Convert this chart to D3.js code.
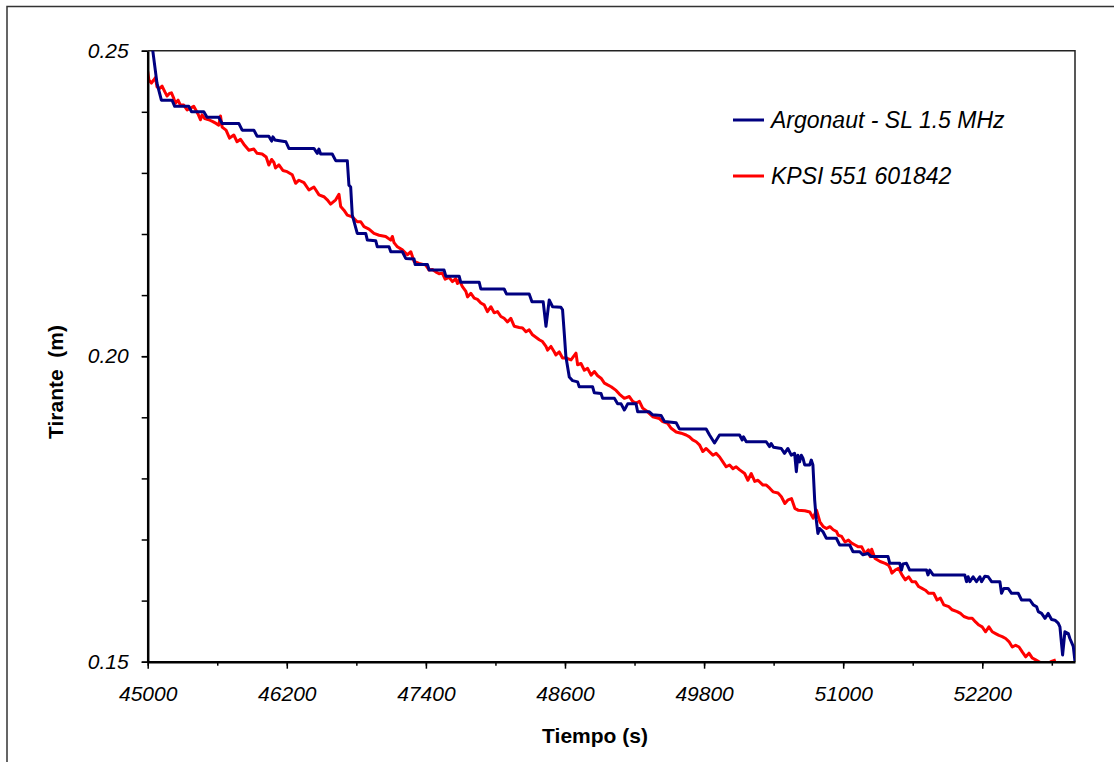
<!DOCTYPE html>
<meta charset="utf-8">
<head>
  <title>Tirante vs Tiempo</title>
  <script type="text/javascript" src="https://d3js.org/d3.v7.min.js"></script>
  <style>
    body {margin: 0; background: #fff;}
    text {font-family: "Liberation Sans", Arial, sans-serif;}
    .tick text {font-size: 21px; font-style: italic; fill: #000;}
  </style>
</head>
<body>
<div id="chart"></div>
<script>

// data: [tiempo (s), tirante (m)]
var argonaut = [[45020,0.2535],[45080,0.2447],[45118,0.2419],[45210,0.2419],[45233,0.2409],[45354,0.2409],[45378,0.2400],[45484,0.2400],[45512,0.2391],[45613,0.2391],[45642,0.2381],[45786,0.2381],[45815,0.2370],[45916,0.2370],[45944,0.2360],[46045,0.2360],[46069,0.2352],[46080,0.2359],[46097,0.2354],[46192,0.2351],[46218,0.2340],[46434,0.2340],[46463,0.2332],[46477,0.2339],[46492,0.2331],[46592,0.2331],[46622,0.2320],[46722,0.2320],[46736,0.2280],[46751,0.2277],[46765,0.2231],[46808,0.2201],[46881,0.2201],[46895,0.2190],[46967,0.2189],[46981,0.2179],[47082,0.2179],[47097,0.2171],[47197,0.2171],[47226,0.2160],[47298,0.2159],[47307,0.2150],[47413,0.2150],[47428,0.2141],[47557,0.2141],[47572,0.2131],[47687,0.2131],[47701,0.2121],[47860,0.2121],[47874,0.2110],[48075,0.2110],[48095,0.2102],[48291,0.2102],[48315,0.2089],[48412,0.2089],[48436,0.2049],[48464,0.2092],[48493,0.2081],[48565,0.2080],[48579,0.2076],[48594,0.2037],[48608,0.1999],[48637,0.1966],[48666,0.1960],[48709,0.1958],[48723,0.1950],[48838,0.1950],[48853,0.1940],[48911,0.1939],[48925,0.1931],[49026,0.1931],[49054,0.1922],[49084,0.1922],[49112,0.1912],[49127,0.1917],[49141,0.1922],[49213,0.1922],[49227,0.1909],[49328,0.1909],[49357,0.1904],[49429,0.1903],[49458,0.1893],[49559,0.1891],[49587,0.1881],[49818,0.1881],[49847,0.1871],[49890,0.1858],[49933,0.1871],[50106,0.1871],[50129,0.1863],[50140,0.1868],[50164,0.1860],[50336,0.1860],[50365,0.1852],[50379,0.1857],[50399,0.1851],[50466,0.1849],[50494,0.1841],[50523,0.1849],[50552,0.1838],[50581,0.1841],[50596,0.1811],[50609,0.1838],[50624,0.1827],[50639,0.1838],[50653,0.1833],[50668,0.1822],[50711,0.1822],[50725,0.1830],[50739,0.1822],[50754,0.1765],[50768,0.1732],[50782,0.1710],[50797,0.1718],[50825,0.1713],[50855,0.1702],[50941,0.1702],[50970,0.1691],[51056,0.1691],[51085,0.1680],[51142,0.1680],[51171,0.1675],[51214,0.1677],[51244,0.1672],[51387,0.1672],[51402,0.1661],[51488,0.1661],[51503,0.1650],[51516,0.1660],[51546,0.1661],[51574,0.1650],[51719,0.1650],[51732,0.1642],[51747,0.1650],[51776,0.1642],[52049,0.1642],[52064,0.1631],[52078,0.1639],[52093,0.1631],[52121,0.1639],[52150,0.1631],[52179,0.1639],[52194,0.1631],[52222,0.1640],[52251,0.1639],[52280,0.1631],[52352,0.1631],[52366,0.1612],[52386,0.1620],[52423,0.1620],[52453,0.1612],[52510,0.1612],[52539,0.1601],[52611,0.1601],[52640,0.1593],[52669,0.1590],[52683,0.1582],[52712,0.1579],[52741,0.1571],[52769,0.1579],[52798,0.1569],[52827,0.1568],[52855,0.1563],[52870,0.1557],[52893,0.1511],[52913,0.1549],[52942,0.1546],[52956,0.1538],[52985,0.1525],[53000,0.1500]];

var kpsi = [[45000,0.2466],[45010,0.2452],[45032,0.2447],[45052,0.2452],[45067,0.2456],[45080,0.2441],[45101,0.2438],[45124,0.2442],[45147,0.2433],[45167,0.2426],[45187,0.2430],[45205,0.2431],[45225,0.2422],[45239,0.2414],[45262,0.2419],[45282,0.2411],[45311,0.2411],[45340,0.2403],[45369,0.2406],[45397,0.2409],[45435,0.2396],[45455,0.2387],[45469,0.2395],[45492,0.2389],[45527,0.2387],[45562,0.2384],[45590,0.2381],[45613,0.2378],[45628,0.2393],[45642,0.2375],[45676,0.2370],[45706,0.2357],[45743,0.2362],[45771,0.2351],[45801,0.2355],[45829,0.2347],[45873,0.2337],[45916,0.2339],[45944,0.2332],[45987,0.2331],[46022,0.2326],[46045,0.2313],[46069,0.2322],[46089,0.2317],[46103,0.2308],[46132,0.2313],[46166,0.2304],[46203,0.2302],[46247,0.2297],[46276,0.2283],[46305,0.2288],[46348,0.2284],[46391,0.2272],[46434,0.2277],[46478,0.2264],[46520,0.2261],[46549,0.2256],[46578,0.2249],[46622,0.2256],[46650,0.2265],[46665,0.2245],[46693,0.2239],[46722,0.2231],[46765,0.2228],[46808,0.2220],[46838,0.2220],[46866,0.2212],[46909,0.2208],[46952,0.2201],[46996,0.2198],[47053,0.2196],[47097,0.2190],[47111,0.2196],[47125,0.2186],[47154,0.2179],[47197,0.2174],[47240,0.2166],[47270,0.2171],[47298,0.2155],[47341,0.2152],[47399,0.2149],[47428,0.2141],[47456,0.2142],[47485,0.2138],[47514,0.2135],[47542,0.2136],[47566,0.2126],[47600,0.2129],[47629,0.2122],[47658,0.2127],[47672,0.2119],[47687,0.2125],[47715,0.2114],[47745,0.2106],[47759,0.2097],[47788,0.2103],[47817,0.2095],[47845,0.2093],[47874,0.2087],[47903,0.2084],[47931,0.2073],[47961,0.2081],[47989,0.2071],[48018,0.2073],[48047,0.2065],[48075,0.2062],[48104,0.2056],[48133,0.2062],[48162,0.2049],[48205,0.2047],[48234,0.2046],[48263,0.2040],[48291,0.2043],[48320,0.2035],[48349,0.2031],[48378,0.2027],[48406,0.2024],[48436,0.2016],[48450,0.2010],[48479,0.2016],[48508,0.2007],[48522,0.2002],[48551,0.2007],[48579,0.1997],[48608,0.1997],[48652,0.1994],[48695,0.2005],[48709,0.1986],[48738,0.1988],[48767,0.1977],[48795,0.1980],[48825,0.1969],[48853,0.1975],[48882,0.1968],[48911,0.1964],[48940,0.1956],[48968,0.1953],[48998,0.1950],[49041,0.1944],[49069,0.1938],[49112,0.1931],[49155,0.1934],[49184,0.1926],[49213,0.1923],[49242,0.1926],[49270,0.1915],[49313,0.1909],[49357,0.1901],[49414,0.1898],[49443,0.1893],[49486,0.1890],[49516,0.1882],[49559,0.1876],[49602,0.1874],[49645,0.1871],[49674,0.1868],[49702,0.1863],[49732,0.1860],[49760,0.1855],[49789,0.1844],[49818,0.1849],[49876,0.1838],[49904,0.1841],[49934,0.1835],[49962,0.1827],[49991,0.1819],[50020,0.1822],[50049,0.1816],[50077,0.1819],[50107,0.1814],[50150,0.1808],[50178,0.1797],[50207,0.1808],[50237,0.1795],[50265,0.1797],[50308,0.1789],[50337,0.1789],[50366,0.1784],[50395,0.1778],[50438,0.1776],[50467,0.1770],[50497,0.1759],[50525,0.1765],[50554,0.1767],[50583,0.1751],[50611,0.1748],[50669,0.1747],[50712,0.1745],[50741,0.1735],[50770,0.1748],[50799,0.1729],[50828,0.1721],[50856,0.1718],[50886,0.1721],[50914,0.1716],[50943,0.1713],[50957,0.1707],[50987,0.1705],[51016,0.1696],[51045,0.1699],[51073,0.1694],[51103,0.1691],[51131,0.1688],[51160,0.1688],[51189,0.1677],[51218,0.1683],[51233,0.1672],[51246,0.1684],[51275,0.1669],[51319,0.1664],[51362,0.1661],[51391,0.1658],[51406,0.1653],[51420,0.1645],[51449,0.1650],[51478,0.1653],[51507,0.1642],[51536,0.1634],[51565,0.1639],[51593,0.1631],[51623,0.1631],[51651,0.1623],[51680,0.1620],[51709,0.1617],[51738,0.1612],[51781,0.1612],[51810,0.1601],[51839,0.1604],[51868,0.1593],[51911,0.1590],[51940,0.1585],[51983,0.1582],[52012,0.1579],[52041,0.1574],[52084,0.1571],[52113,0.1571],[52142,0.1565],[52171,0.1560],[52199,0.1557],[52229,0.1549],[52257,0.1557],[52286,0.1549],[52315,0.1546],[52344,0.1543],[52372,0.1541],[52402,0.1538],[52430,0.1533],[52459,0.1524],[52488,0.1527],[52517,0.1524],[52545,0.1516],[52575,0.1508],[52603,0.1514],[52632,0.1506],[52661,0.1503],[52690,0.1500],[52719,0.1497],[52762,0.1497],[52791,0.1500],[52834,0.1503]];

var xTicks = [45000, 46200, 47400, 48600, 49800, 51000, 52200];
var xMinorTicks = [45000, 45600, 46200, 46800, 47400, 48000, 48600, 49200, 49800, 50400, 51000, 51600, 52200, 52800];
var yTicks = [0.15, 0.20, 0.25];
var yMinorTicks = [0.15, 0.16, 0.17, 0.18, 0.19, 0.20, 0.21, 0.22, 0.23, 0.24, 0.25];
var seriesNames = ["Argonaut - SL 1.5 MHz", "KPSI 551 601842"];
var seriesColors = ["#000080", "#ff0000"];

var W = 1114, H = 762;
var plot = {left: 147.7, top: 50.7, right: 1075, bottom: 661.7};

var svg = d3.select("#chart").append("svg")
    .attr("width", W)
    .attr("height", H);

// outer chart frame (runs off the picture to the right and bottom)
svg.append("rect")
    .attr("x", 7).attr("y", 6.5)
    .attr("width", W + 20).attr("height", H + 20)
    .attr("fill", "none")
    .attr("stroke", "#333")
    .attr("stroke-width", 1.5);

var x = d3.scaleLinear().domain([45000, 53000]).range([plot.left, plot.right]);
var y = d3.scaleLinear().domain([0.15, 0.25]).range([plot.bottom, plot.top]);

// plot area top and right edges
svg.append("path")
    .attr("d", "M" + plot.left + "," + plot.top + "H" + plot.right + "V" + plot.bottom)
    .attr("fill", "none")
    .attr("stroke", "#222")
    .attr("stroke-width", 1.5);

svg.append("clipPath").attr("id", "clip")
  .append("rect")
    .attr("x", plot.left).attr("y", plot.top)
    .attr("width", plot.right - plot.left)
    .attr("height", plot.bottom - plot.top);

var line = d3.line()
    .x(function(d){ return x(d[0]); })
    .y(function(d){ return y(d[1]); });

var g = svg.append("g").attr("clip-path", "url(#clip)");

g.append("path")
    .datum(kpsi)
    .attr("d", line)
    .attr("fill", "none")
    .attr("stroke", seriesColors[1])
    .attr("stroke-width", 3)
    .attr("stroke-linejoin", "round");

g.append("path")
    .datum(argonaut)
    .attr("d", line)
    .attr("fill", "none")
    .attr("stroke", seriesColors[0])
    .attr("stroke-width", 3)
    .attr("stroke-linejoin", "round");

// minor ticks
svg.append("g")
    .attr("transform", "translate(0," + plot.bottom + ")")
    .call(d3.axisBottom(x).tickValues(xMinorTicks).tickSize(4).tickSizeOuter(0).tickFormat(""))
    .call(function(a){ a.select(".domain").remove(); a.selectAll("line").attr("stroke-width", 1.5); });

svg.append("g")
    .attr("transform", "translate(" + plot.left + ",0)")
    .call(d3.axisLeft(y).tickValues(yMinorTicks).tickSize(6).tickSizeOuter(0).tickFormat(""))
    .call(function(a){ a.select(".domain").remove(); a.selectAll("line").attr("stroke-width", 1.5); });

// major axes
svg.append("g")
    .attr("transform", "translate(0," + plot.bottom + ")")
    .call(d3.axisBottom(x).tickValues(xTicks).tickSize(7).tickSizeOuter(0).tickPadding(17).tickFormat(d3.format("d")))
    .call(function(a){
        a.select(".domain").attr("stroke-width", 2.5);
        a.selectAll("line").attr("stroke-width", 1.5);
        a.selectAll("text").attr("font-family", "'Liberation Sans', Arial, sans-serif");
    });

svg.append("g")
    .attr("transform", "translate(" + plot.left + ",0)")
    .call(d3.axisLeft(y).tickValues(yTicks).tickSize(6).tickSizeOuter(0).tickPadding(13).tickFormat(d3.format(".2f")))
    .call(function(a){
        a.select(".domain").attr("stroke-width", 2.5);
        a.selectAll("line").attr("stroke-width", 1.5);
        a.selectAll("text").attr("font-family", "'Liberation Sans', Arial, sans-serif");
    });

// axis titles
svg.append("text")
    .attr("x", 595).attr("y", 743)
    .attr("text-anchor", "middle")
    .style("font-size", "21px")
    .style("font-weight", "bold")
    .text("Tiempo (s)");

svg.append("text")
    .attr("transform", "translate(63,382) rotate(-90)")
    .attr("text-anchor", "middle")
    .style("font-size", "21px")
    .style("font-weight", "bold")
    .style("white-space", "pre")
    .text("Tirante  (m)");

// legend
var legend = svg.append("g").attr("transform", "translate(733,120)");
seriesNames.forEach(function(name, i){
    legend.append("line")
        .attr("x1", 0).attr("x2", 31)
        .attr("y1", i * 56).attr("y2", i * 56)
        .attr("stroke", seriesColors[i])
        .attr("stroke-width", 3);
    legend.append("text")
        .attr("x", 38).attr("y", i * 56 + 8)
        .style("font-size", "23px")
        .style("font-style", "italic")
        .text(name);
});

</script>
</body>
</html>
